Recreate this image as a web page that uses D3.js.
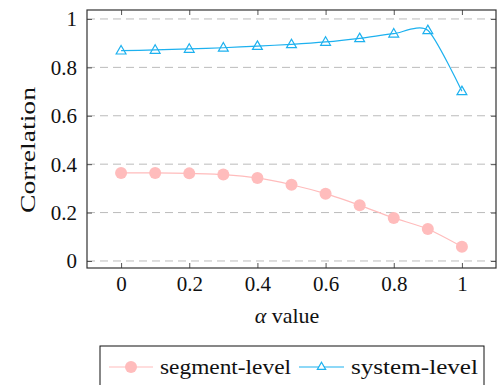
<!DOCTYPE html>
<html>
<head>
<meta charset="utf-8">
<script src="https://cdn.jsdelivr.net/npm/d3@7"></script>
<style>
  body { margin: 0; background: #fff; }
  text { font-family: "Liberation Serif", "DejaVu Serif", serif; fill: #111; }
</style>
</head>
<body>
<div id="chart"></div>
<script>
// alpha values and the two correlation series
const alphas = [0, 0.1, 0.2, 0.3, 0.4, 0.5, 0.6, 0.7, 0.8, 0.9, 1.0];
const segmentLevel = [0.364, 0.364, 0.362, 0.357, 0.343, 0.315, 0.278, 0.230, 0.178, 0.132, 0.059];
const systemLevel = [0.869, 0.872, 0.876, 0.881, 0.888, 0.895, 0.905, 0.920, 0.939, 0.953, 0.701];
const xTicks = [0, 0.2, 0.4, 0.6, 0.8, 1];
const yTicks = [0, 0.2, 0.4, 0.6, 0.8, 1];
const xTickLabels = ["0", "0.2", "0.4", "0.6", "0.8", "1"];
const yTickLabels = ["0", "0.2", "0.4", "0.6", "0.8", "1"];

const W = 497, H = 385;
const margin = {top: 10, right: 1, bottom: 117, left: 87};
const width = W - margin.left - margin.right,
      height = H - margin.top - margin.bottom;

const pink = "#ffbcbc", cyan = "#1db1ef";
const serif = '"Liberation Serif", "DejaVu Serif", serif';

const svg = d3.select("#chart").append("svg")
    .attr("width", W)
    .attr("height", H);

const g = svg.append("g")
    .attr("transform", "translate(" + margin.left + "," + margin.top + ")");

const x = d3.scaleLinear().domain([-0.1, 1.1]).range([0, width]);
const y = d3.scaleLinear().domain([-0.029, 1.037]).range([height, 0]);

// grid lines
g.selectAll(".grid")
    .data(yTicks)
    .enter().append("line")
    .attr("x1", 0).attr("x2", width)
    .attr("y1", d => y(d)).attr("y2", d => y(d))
    .attr("stroke", "#bbb")
    .attr("stroke-width", 1)
    .attr("stroke-dasharray", "8,5");

// axes: ticks inside on all four sides
const tickLen = 5;
g.append("g")
    .attr("transform", "translate(0," + height + ")")
    .call(d3.axisBottom(x).tickValues(xTicks).tickSize(-tickLen).tickPadding(0)
      .tickFormat((d, i) => xTickLabels[i]))
    .call(a => a.select(".domain").remove())
    .call(a => a.selectAll("text")
      .style("font-family", serif).style("font-size", "21px")
      .attr("y", 23).attr("dy", null));

g.append("g")
    .call(d3.axisTop(x).tickValues(xTicks).tickSize(-tickLen).tickFormat(""))
    .call(a => a.select(".domain").remove());

g.append("g")
    .call(d3.axisLeft(y).tickValues(yTicks).tickSize(-tickLen).tickPadding(0)
      .tickFormat((d, i) => yTickLabels[i]))
    .call(a => a.select(".domain").remove())
    .call(a => a.selectAll("text")
      .style("font-family", serif).style("font-size", "21px")
      .attr("x", -10).attr("dy", "0.33em"));

g.append("g")
    .attr("transform", "translate(" + width + ",0)")
    .call(d3.axisRight(y).tickValues(yTicks).tickSize(-tickLen).tickFormat(""))
    .call(a => a.select(".domain").remove());

g.selectAll(".tick line").attr("stroke", "#555");

// frame
g.append("rect")
    .attr("width", width).attr("height", height)
    .attr("fill", "none").attr("stroke", "#333").attr("stroke-width", 1.2);

const line = d3.line()
    .x(d => x(d[0]))
    .y(d => y(d[1]))
    .curve(d3.curveCardinal.tension(0.3));

const segData = alphas.map((a, i) => [a, segmentLevel[i]]);
const sysData = alphas.map((a, i) => [a, systemLevel[i]]);

g.append("path")
    .datum(segData)
    .attr("d", line)
    .attr("fill", "none")
    .attr("stroke", pink)
    .attr("stroke-width", 1.2);

g.selectAll(".seg")
    .data(segData)
    .enter().append("circle")
    .attr("cx", d => x(d[0]))
    .attr("cy", d => y(d[1]))
    .attr("r", 6)
    .attr("fill", pink);

g.append("path")
    .datum(sysData)
    .attr("d", line)
    .attr("fill", "none")
    .attr("stroke", cyan)
    .attr("stroke-width", 1.2);

const tri = d3.symbol().type(d3.symbolTriangle).size(42);
g.selectAll(".sys")
    .data(sysData)
    .enter().append("path")
    .attr("d", tri)
    .attr("transform", d => "translate(" + x(d[0]) + "," + (y(d[1]) + 0.5) + ")")
    .attr("fill", "none")
    .attr("stroke", cyan)
    .attr("stroke-width", 1.2);

// axis labels
svg.append("text")
    .attr("x", 287)
    .attr("y", 323)
    .attr("text-anchor", "middle")
    .style("font-size", "22px")
    .html('<tspan font-style="italic">α</tspan> value');

svg.append("text")
    .attr("transform", "translate(35,150) rotate(-90)")
    .attr("text-anchor", "middle")
    .style("font-size", "22px")
    .attr("textLength", 126)
    .attr("lengthAdjust", "spacingAndGlyphs")
    .text("Correlation");

// legend
const leg = svg.append("g");
leg.append("rect")
    .attr("x", 100).attr("y", 346)
    .attr("width", 384).attr("height", 50)
    .attr("fill", "#fff").attr("stroke", "#111").attr("stroke-width", 1);

leg.append("line")
    .attr("x1", 109).attr("x2", 153).attr("y1", 367).attr("y2", 367)
    .attr("stroke", pink).attr("stroke-width", 1.2);
leg.append("circle")
    .attr("cx", 131).attr("cy", 367).attr("r", 6).attr("fill", pink);
leg.append("text")
    .attr("x", 160).attr("y", 374)
    .style("font-size", "21px")
    .attr("textLength", 131)
    .attr("lengthAdjust", "spacingAndGlyphs")
    .text("segment-level");

leg.append("line")
    .attr("x1", 299).attr("x2", 344).attr("y1", 367).attr("y2", 367)
    .attr("stroke", cyan).attr("stroke-width", 1.2);
leg.append("path")
    .attr("d", d3.symbol().type(d3.symbolTriangle).size(30))
    .attr("transform", "translate(321.5,367)")
    .attr("fill", "#fff").attr("stroke", cyan).attr("stroke-width", 1.2);
leg.append("text")
    .attr("x", 351).attr("y", 374)
    .style("font-size", "21px")
    .attr("textLength", 127)
    .attr("lengthAdjust", "spacingAndGlyphs")
    .text("system-level");
</script>
</body>
</html>
